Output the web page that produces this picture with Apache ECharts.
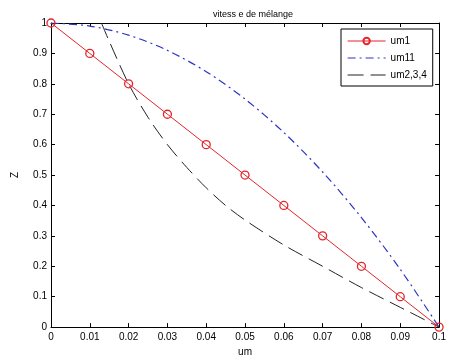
<!DOCTYPE html>
<html>
<head>
<meta charset="utf-8">
<script src="https://cdn.jsdelivr.net/npm/echarts@6/dist/echarts.min.js"></script>
<style>
  html, body { margin: 0; padding: 0; background: #fff; }
  #chart { width: 449px; height: 362px; }
</style>
</head>
<body>
<div id="chart"></div>
<script>
// values
const xVals = [0, 0.01, 0.02, 0.03, 0.04, 0.05, 0.06, 0.07, 0.08, 0.09, 0.1]
const um1 = [1, 0.9, 0.8, 0.7, 0.6, 0.5, 0.4, 0.3, 0.2, 0.1, 0]
const um11 = [1, 0.99, 0.96, 0.91, 0.84, 0.75, 0.64, 0.51, 0.36, 0.19, 0]
const um234X = [0.013, 0.015, 0.02, 0.025, 0.03, 0.035, 0.04, 0.045, 0.05, 0.06, 0.07, 0.08, 0.09, 0.1]
const um234 = [1, 0.94, 0.8, 0.69, 0.6, 0.525, 0.458, 0.4, 0.352, 0.27, 0.2, 0.13, 0.065, 0]

const font = 'Liberation Sans, Arial, sans-serif'
const red = '#e4252b'
const blue = '#2c34c6'
const black = '#222'
const blueDash = [8, 4, 2, 4]
const blackDash = [16, 7]
const pair = (xs, ys) => xs.map((x, i) => [x, ys[i]])

const chart = echarts.init(document.getElementById('chart'))

const boxAxis = {
  axisLine: { show: true, onZero: false, lineStyle: { color: '#000', width: 1 } },
  axisTick: { show: true, inside: true, length: 4, lineStyle: { color: '#000' } },
  splitLine: { show: false },
}

chart.setOption({
  animation: false,
  backgroundColor: '#fff',
  title: {
    text: 'vitess e de mélange',
    left: 248,
    top: 5,
    textAlign: 'center',
    textStyle: { fontSize: 9, fontWeight: 'normal', color: '#000', fontFamily: font },
  },
  legend: {
    orient: 'vertical',
    left: 341,
    top: 29,
    itemWidth: 38,
    itemHeight: 8,
    itemGap: 7,
    padding: [7, 6, 6, 6],
    borderColor: '#000',
    borderWidth: 1,
    backgroundColor: '#fff',
    textStyle: { fontSize: 10, color: '#000', fontFamily: font },
    data: [
      { name: 'um1', lineStyle: { color: red, width: 1 } },
      { name: 'um11', itemStyle: { opacity: 0 }, lineStyle: { type: blueDash, color: blue, width: 1.2 } },
      { name: 'um2,3,4', itemStyle: { opacity: 0 }, lineStyle: { type: blackDash, color: black, width: 1 } },
    ],
  },
  grid: { left: 51, right: 4, top: 23, bottom: 34 },
  xAxis: [
    {
      ...boxAxis,
      type: 'value',
      min: 0,
      max: 0.1,
      interval: 0.01,
      name: 'um',
      nameLocation: 'middle',
      nameGap: 18,
      nameTextStyle: { fontSize: 10, color: '#000', fontFamily: font },
      axisLabel: { fontSize: 10, color: '#000', fontFamily: font, margin: 5 },
    },
    {
      ...boxAxis,
      type: 'value',
      position: 'top',
      min: 0,
      max: 0.1,
      interval: 0.01,
      axisLabel: { show: false },
    },
  ],
  yAxis: [
    {
      ...boxAxis,
      type: 'value',
      min: 0,
      max: 1,
      interval: 0.1,
      name: 'Z',
      nameLocation: 'middle',
      nameGap: 31,
      nameRotate: 90,
      nameTextStyle: { fontSize: 10, color: '#000', fontFamily: font },
      axisLabel: { fontSize: 10, color: '#000', fontFamily: font, margin: 4 },
    },
    {
      ...boxAxis,
      type: 'value',
      position: 'right',
      min: 0,
      max: 1,
      interval: 0.1,
      axisLabel: { show: false },
    },
  ],
  series: [
    {
      name: 'um1',
      type: 'line',
      data: pair(xVals, um1),
      color: red,
      lineStyle: { width: 1, color: red },
      symbol: 'circle',
      symbolSize: 8,
      itemStyle: { color: 'rgba(255,255,255,0)', borderColor: red, borderWidth: 1.3 },
      z: 3,
    },
    {
      name: 'um11',
      type: 'line',
      data: pair(xVals, um11),
      smooth: 0.3,
      color: blue,
      lineStyle: { width: 1.2, color: blue, type: blueDash },
      showSymbol: false,
      symbol: 'none',
    },
    {
      name: 'um2,3,4',
      type: 'line',
      data: pair(um234X, um234),
      smooth: 0.3,
      color: black,
      lineStyle: { width: 1, color: black, type: blackDash },
      showSymbol: false,
      symbol: 'none',
    },
  ],
})
</script>
</body>
</html>
